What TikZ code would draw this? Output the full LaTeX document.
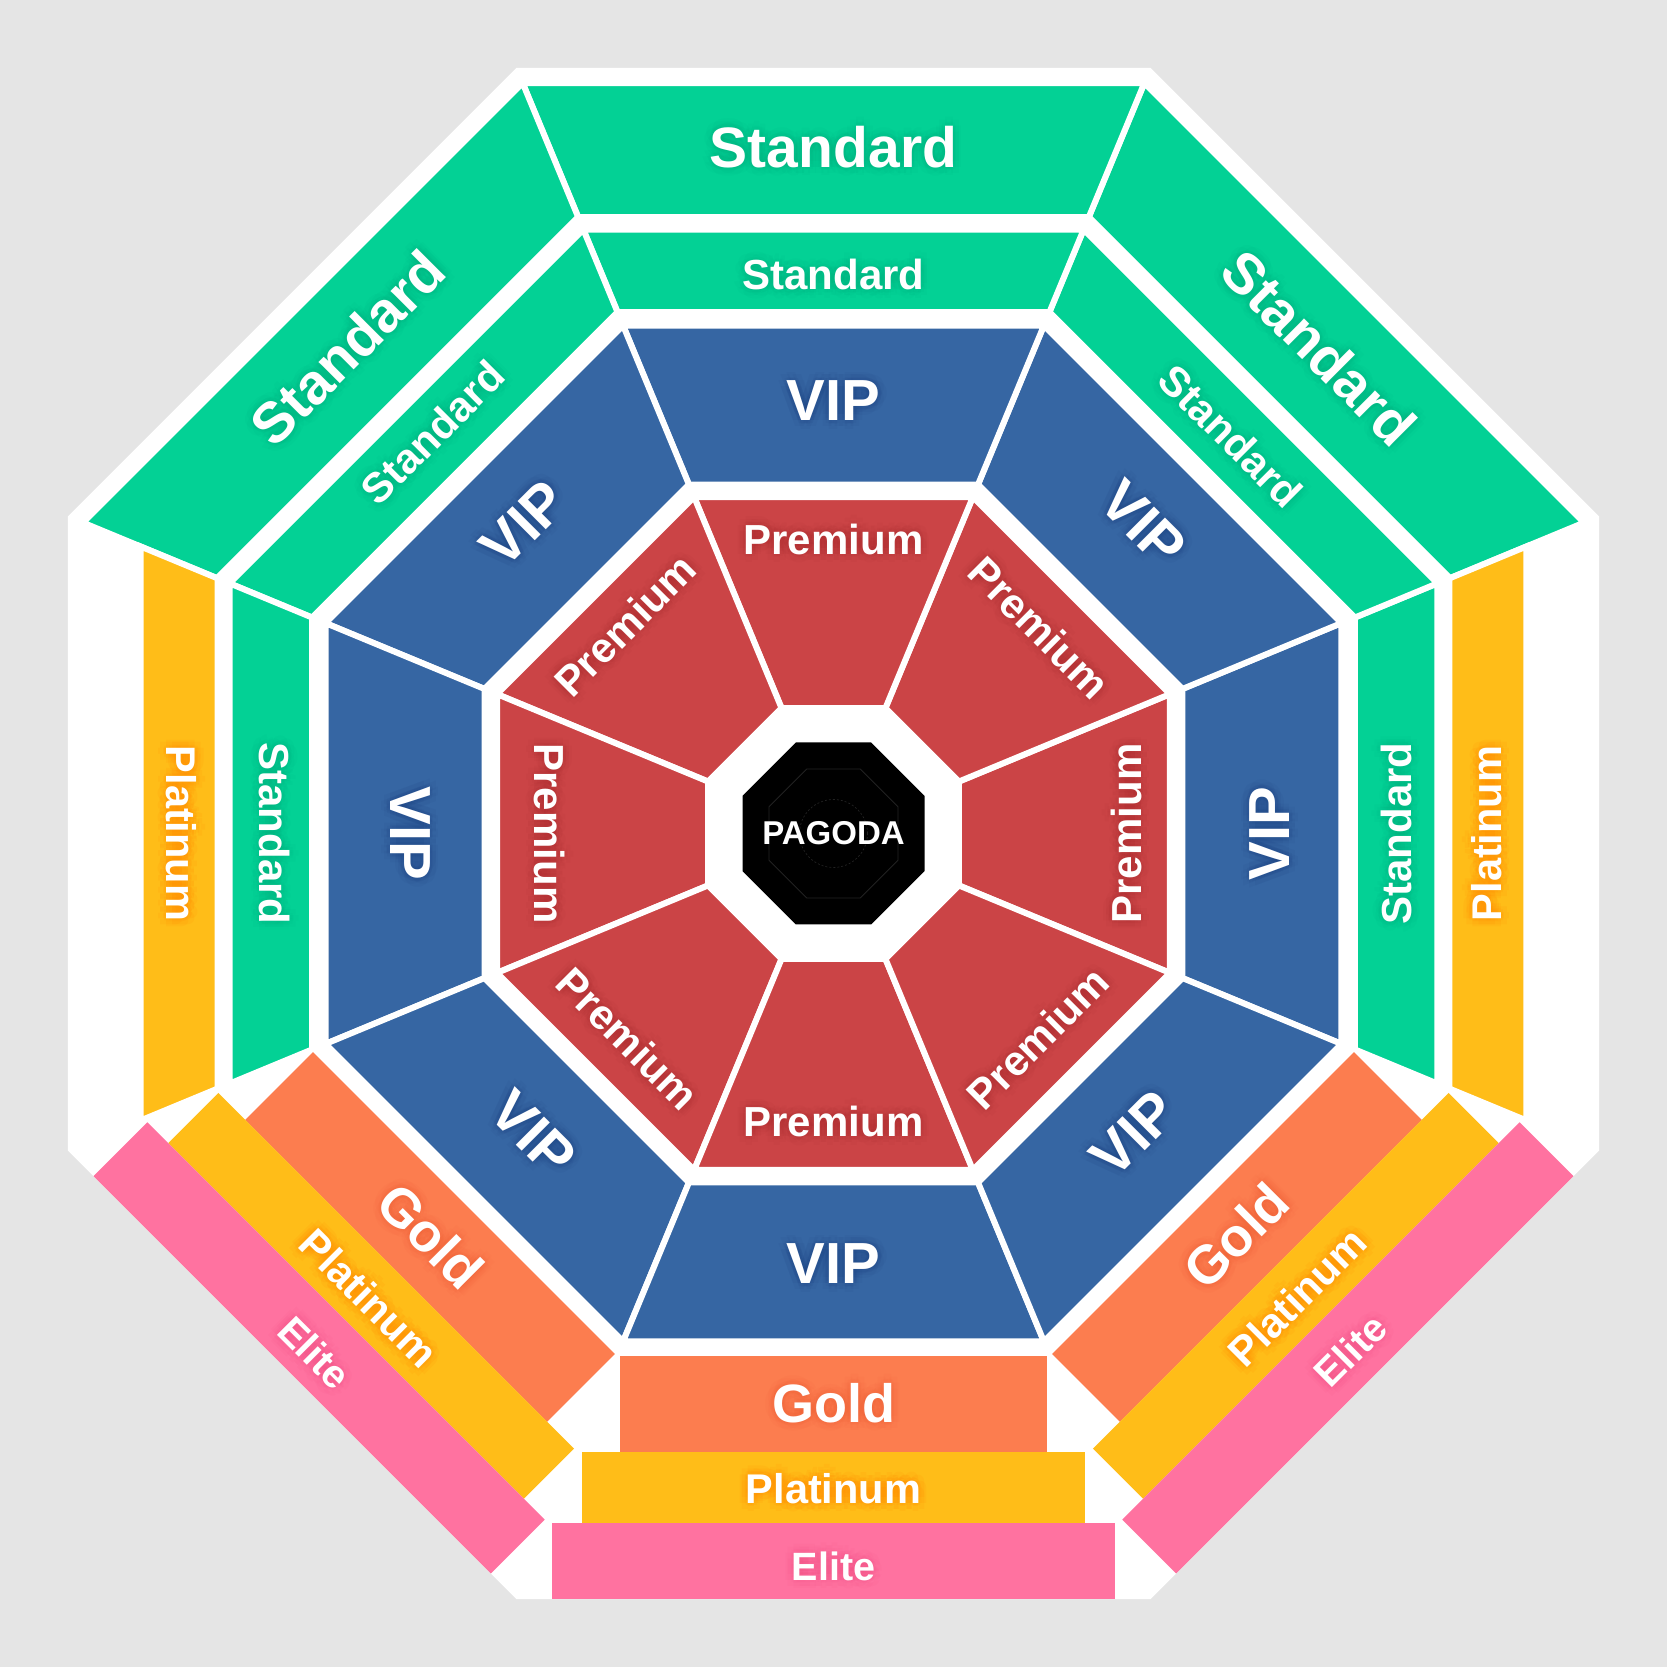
\documentclass[tikz,border=0pt]{standalone}
\usepackage{fontspec}
\setmainfont{Liberation Sans}
\usetikzlibrary{calc}

\definecolor{bg}{RGB}{229,229,229}
\definecolor{stdc}{RGB}{3,209,149}
\definecolor{vipc}{RGB}{54,102,163}
\definecolor{premc}{RGB}{203,68,70}
\definecolor{goldc}{RGB}{252,125,79}
\definecolor{platc}{RGB}{255,189,24}
\definecolor{elitec}{RGB}{255,114,160}
\definecolor{stdg}{RGB}{0,140,100}
\definecolor{vipg}{RGB}{20,50,115}
\definecolor{premg}{RGB}{140,25,30}
\definecolor{goldg}{RGB}{240,80,40}
\definecolor{platg}{RGB}{255,135,0}
\definecolor{eliteg}{RGB}{240,60,120}
\definecolor{faint}{RGB}{34,34,34}

\newcommand\seatsector[4]{%
  \filldraw[sectorstroke, fill=#1]
    ({#2-22.5}:{#3*1.082392}) -- ({#2+22.5}:{#3*1.082392}) --
    ({#2+22.5}:{#4*1.082392}) -- ({#2-22.5}:{#4*1.082392}) -- cycle;}

\newcommand\seatblock[5]{%
  \begin{scope}[rotate={#2-270}]
    \fill[#1] (-#5,-#3) -- (#5,-#3) -- (#5,-#4) -- (-#5,-#4) -- cycle;
  \end{scope}}

% #1 name, #2 angle, #3 apothem, #4 rotation, #5 size, #6 glow colour, #7 glow opacity, #8 text
\newcommand\seatlabel[8]{%
  \foreach \gx/\gy [count=\gi] in {3.5/0,-3.5/0,0/3.5,0/-3.5,2.5/2.5,-2.5/2.5,2.5/-2.5,-2.5/-2.5,
      8.5/0,-8.5/0,0/8.5,0/-8.5,6/6,-6/6,6/-6,-6/-6}{%
    \node[seattext, text=#6, text opacity=#7, rotate=#4,
          font=\fontsize{#5}{#5}\selectfont\bfseries] (#1g\gi) at ($(#2:#3)+(\gx,\gy)$) {#8};}
  \node[seattext, rotate=#4, font=\fontsize{#5}{#5}\selectfont\bfseries] (#1) at (#2:#3) {#8};}

\begin{document}
\begin{tikzpicture}[x=1pt,y=1pt,
  sectorstroke/.style={draw=white, line width=6pt, line join=miter},
  seattext/.style={text=white, inner sep=0pt, anchor=center}]

\useasboundingbox (-833.5,-833.5) rectangle (833.5,833.5);
\fill[bg] (-833.5,-833.5) rectangle (833.5,833.5);

% white base octagon
\fill[white] (22.5:828.6) -- (67.5:828.6) -- (112.5:828.6) -- (157.5:828.6) --
  (202.5:828.6) -- (247.5:828.6) -- (292.5:828.6) -- (337.5:828.6) -- cycle;

% Premium ring
\foreach \a in {0,45,...,315}{\seatsector{premc}{\a}{125.5}{336.5}}
% VIP ring
\foreach \a in {0,45,...,315}{\seatsector{vipc}{\a}{349}{508}}
% inner Standard ring
\foreach \a in {0,45,90,135,180}{\seatsector{stdc}{\a}{521.5}{604}}
% outer Standard ring
\foreach \a in {45,90,135}{\seatsector{stdc}{\a}{616.5}{750.5}}
% side Platinum
\foreach \a in {0,180}{\seatsector{platc}{\a}{616}{693}}

% lower blocks
\foreach \a in {225,270,315}{%
  \seatblock{goldc}{\a}{522.6}{618.4}{213.5}
  \seatblock{platc}{\a}{618.4}{689.4}{251.5}
  \seatblock{elitec}{\a}{689.4}{765.5}{281}}

% central pagoda
\fill[black] (22.5:98.5) -- (67.5:98.5) -- (112.5:98.5) -- (157.5:98.5) --
  (202.5:98.5) -- (247.5:98.5) -- (292.5:98.5) -- (337.5:98.5) -- cycle;
\draw[faint, line width=0.8pt] (22.5:69.8) -- (67.5:69.8) -- (112.5:69.8) -- (157.5:69.8) --
  (202.5:69.8) -- (247.5:69.8) -- (292.5:69.8) -- (337.5:69.8) -- cycle;
\draw[faint, line width=0.7pt, dash pattern=on 2pt off 2pt] (0,0) circle (34);
\node[seattext, font=\fontsize{33}{33}\selectfont\bfseries] (pagoda) at (0,0) {PAGODA};

% outer Standard labels
\seatlabel{so1}{90}{686.8}{0}{57}{stdg}{0.04}{Standard}
\seatlabel{so2}{135}{687}{45}{57}{stdg}{0.04}{Standard}
\seatlabel{so3}{45}{686.7}{-45}{57}{stdg}{0.04}{Standard}
% inner Standard labels
\seatlabel{si1}{90}{559}{0}{42}{stdg}{0.04}{Standard}
\seatlabel{si2}{135}{567}{45}{42}{stdg}{0.04}{Standard}
\seatlabel{si3}{45}{562}{-45}{42}{stdg}{0.04}{Standard}
\seatlabel{si4}{180}{558.5}{-90}{42}{stdg}{0.04}{Standard}
\seatlabel{si5}{0}{562.5}{90}{42}{stdg}{0.04}{Standard}
% VIP labels
\seatlabel{v1}{90}{432.7}{0}{58}{vipg}{0.05}{VIP}
\seatlabel{v2}{270}{430.5}{0}{58}{vipg}{0.05}{VIP}
\seatlabel{v3}{180}{423.5}{-90}{58}{vipg}{0.05}{VIP}
\seatlabel{v4}{0}{436.5}{90}{58}{vipg}{0.05}{VIP}
\seatlabel{v5}{135}{438}{45}{58}{vipg}{0.05}{VIP}
\seatlabel{v6}{45}{438}{-45}{58}{vipg}{0.05}{VIP}
\seatlabel{v7}{225}{424.7}{-45}{58}{vipg}{0.05}{VIP}
\seatlabel{v8}{315}{424.5}{45}{58}{vipg}{0.05}{VIP}
% Premium labels
\seatlabel{p1}{90}{294.5}{0}{42}{premg}{0.04}{Premium}
\seatlabel{p2}{270}{288}{0}{42}{premg}{0.04}{Premium}
\seatlabel{p3}{180}{283.8}{-90}{42}{premg}{0.04}{Premium}
\seatlabel{p4}{0}{292.8}{90}{42}{premg}{0.04}{Premium}
\seatlabel{p5}{135}{294.7}{45}{42}{premg}{0.04}{Premium}
\seatlabel{p6}{45}{291.2}{-45}{42}{premg}{0.04}{Premium}
\seatlabel{p7}{225}{290.5}{-45}{42}{premg}{0.04}{Premium}
\seatlabel{p8}{315}{289}{45}{42}{premg}{0.04}{Premium}
% Platinum labels
\seatlabel{pl1}{180}{651.8}{-90}{41.5}{platg}{0.11}{Platinum}
\seatlabel{pl2}{0}{652.8}{90}{41.5}{platg}{0.11}{Platinum}
\seatlabel{pl3}{270}{654.8}{0}{41.5}{platg}{0.11}{Platinum}
\seatlabel{pl4}{225}{657}{-45}{41.5}{platg}{0.11}{Platinum}
\seatlabel{pl5}{315}{655.5}{45}{41.5}{platg}{0.11}{Platinum}
% Gold labels
\seatlabel{g1}{270}{569.5}{0}{54}{goldg}{0.05}{Gold}
\seatlabel{g2}{225}{569.1}{-45}{54}{goldg}{0.05}{Gold}
\seatlabel{g3}{315}{569}{45}{54}{goldg}{0.05}{Gold}
% Elite labels
\seatlabel{e1}{270}{732.5}{0}{39.5}{eliteg}{0.05}{Elite}
\seatlabel{e2}{225}{734}{-45}{39.5}{eliteg}{0.05}{Elite}
\seatlabel{e3}{315}{731}{45}{39.5}{eliteg}{0.05}{Elite}

\end{tikzpicture}
\end{document}
